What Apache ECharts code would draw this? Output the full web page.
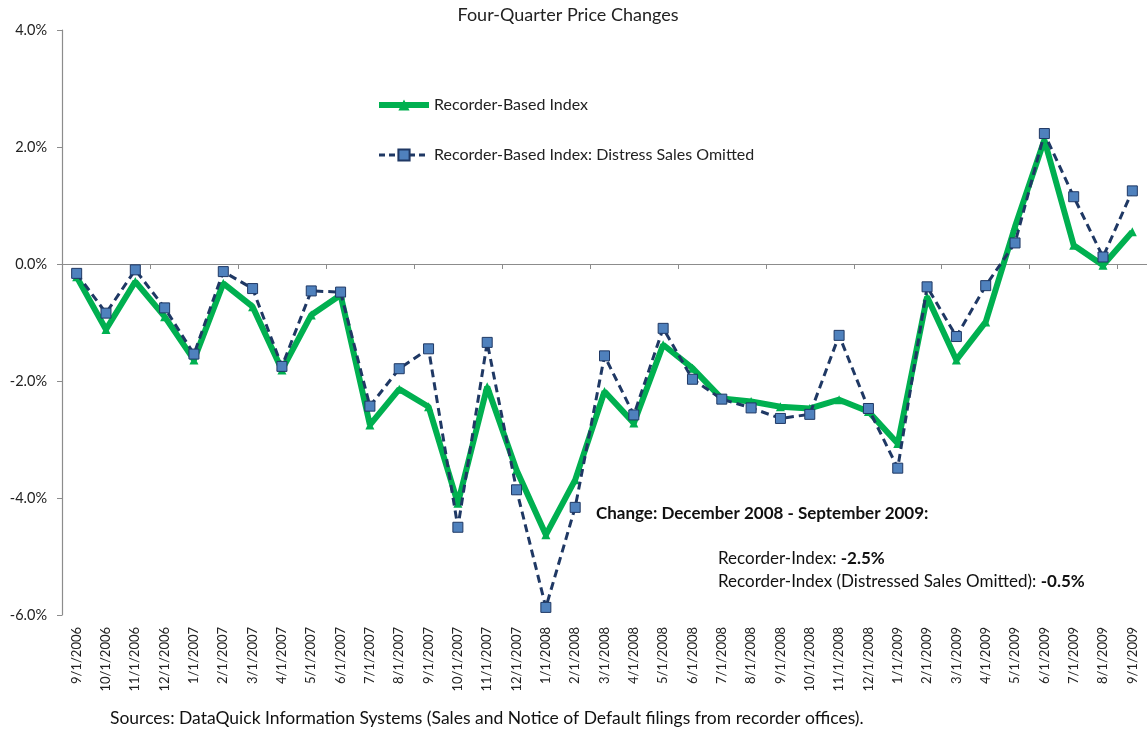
<!DOCTYPE html>
<html><head><meta charset="utf-8">
<script src="https://cdn.jsdelivr.net/npm/echarts@6/dist/echarts.min.js"></script>
<style>html,body{margin:0;padding:0;background:#fff}#c{width:1147px;height:731px}</style>
</head><body><div id="c"></div>
<script>
const categories = ['9/1/2006','10/1/2006','11/1/2006','12/1/2006','1/1/2007','2/1/2007','3/1/2007','4/1/2007','5/1/2007','6/1/2007','7/1/2007','8/1/2007','9/1/2007','10/1/2007','11/1/2007','12/1/2007','1/1/2008','2/1/2008','3/1/2008','4/1/2008','5/1/2008','6/1/2008','7/1/2008','8/1/2008','9/1/2008','10/1/2008','11/1/2008','12/1/2008','1/1/2009','2/1/2009','3/1/2009','4/1/2009','5/1/2009','6/1/2009','7/1/2009','8/1/2009','9/1/2009'];
const recorderIndex = [-0.22,-1.12,-0.30,-0.90,-1.64,-0.33,-0.73,-1.81,-0.87,-0.53,-2.75,-2.14,-2.44,-4.09,-2.10,-3.52,-4.63,-3.69,-2.18,-2.72,-1.38,-1.78,-2.30,-2.35,-2.44,-2.47,-2.32,-2.52,-3.07,-0.56,-1.64,-0.99,0.64,2.12,0.32,-0.02,0.55];
const distressOmitted = [-0.16,-0.84,-0.10,-0.75,-1.54,-0.13,-0.42,-1.75,-0.46,-0.48,-2.43,-1.79,-1.45,-4.50,-1.34,-3.86,-5.87,-4.16,-1.57,-2.58,-1.10,-1.97,-2.31,-2.46,-2.64,-2.57,-1.22,-2.47,-3.49,-0.39,-1.24,-0.37,0.36,2.23,1.15,0.12,1.25];
const yTicks = {min:-6, max:4, interval:2};
const seriesNames = ['Recorder-Based Index','Recorder-Based Index: Distress Sales Omitted'];
const titleText = 'Four-Quarter Price Changes';
const sourceText = 'Sources: DataQuick Information Systems (Sales and Notice of Default filings from recorder offices).';

const FONT = 'Lato, "Liberation Sans", sans-serif';
const chart = echarts.init(document.getElementById('c'), null, {renderer:'canvas'});
chart.setOption({
  animation:false,
  backgroundColor:'#fff',
  textStyle:{fontFamily:FONT},
  graphic:[
    {type:'text',x:568,y:15,style:{text:titleText,font:'18px '+FONT,fill:'#222',align:'center',verticalAlign:'middle'}},
    {type:'text',x:596,y:514,style:{text:'Change: December 2008 - September 2009:',font:'bold 17px '+FONT,fill:'#111',align:'left',verticalAlign:'middle'}},
    {type:'text',x:718,y:547,style:{text:'{a|Recorder-Index: }{b|-2.5%}\n{a|Recorder-Index (Distressed Sales Omitted): }{b|-0.5%}',
      align:'left',verticalAlign:'top',
      rich:{a:{font:'17px '+FONT,fill:'#111',lineHeight:23},b:{font:'bold 17px '+FONT,fill:'#111',lineHeight:23}}}},
    {type:'text',x:110,y:718,style:{text:sourceText,font:'17.5px '+FONT,fill:'#111',align:'left',verticalAlign:'middle'}}
  ],
  legend:{orient:'vertical',left:371,top:92,itemWidth:50,itemHeight:14,itemGap:34,
    textStyle:{fontFamily:FONT,fontSize:16,color:'#222',lineHeight:16},
    data:[{name:seriesNames[0],lineStyle:{width:6,color:'#00b050'}},
          {name:seriesNames[1],lineStyle:{width:3,color:'#1f3864',type:[6,4]}}]},
  grid:{left:62,right:0,top:30,bottom:116},
  xAxis:[{type:'category',data:categories,boundaryGap:true,
      axisLine:{onZero:true,lineStyle:{color:'#8c8c8c',width:1.2}},
      axisTick:{show:true,length:5,lineStyle:{color:'#8c8c8c'}},
      axisLabel:{show:false}},
    {type:'category',data:categories,boundaryGap:true,position:'bottom',
      axisLine:{show:false,onZero:false},axisTick:{show:false},
      axisLabel:{rotate:90,interval:0,fontFamily:FONT,fontSize:13,color:'#222',margin:12}}],
  yAxis:{type:'value',min:yTicks.min,max:yTicks.max,interval:yTicks.interval,
    splitLine:{show:false},
    axisLine:{show:true,lineStyle:{color:'#8c8c8c',width:1.2}},
    axisTick:{show:true,length:5,lineStyle:{color:'#8c8c8c'}},
    axisLabel:{formatter:v=>v.toFixed(1)+'%',fontFamily:FONT,fontSize:14.5,color:'#222',margin:15}},
  series:[
    {name:seriesNames[0],type:'line',xAxisIndex:0,data:recorderIndex,
      symbol:'triangle',symbolSize:9,showAllSymbol:true,
      lineStyle:{color:'#00b050',width:6},itemStyle:{color:'#00b050'},z:2},
    {name:seriesNames[1],type:'line',xAxisIndex:0,data:distressOmitted,
      symbol:'rect',symbolSize:10,showAllSymbol:true,
      lineStyle:{color:'#1f3864',width:3,type:[8,5]},
      itemStyle:{color:'#4f81bd',borderColor:'#1f3864',borderWidth:1},z:3}
  ]
});
</script></body></html>
